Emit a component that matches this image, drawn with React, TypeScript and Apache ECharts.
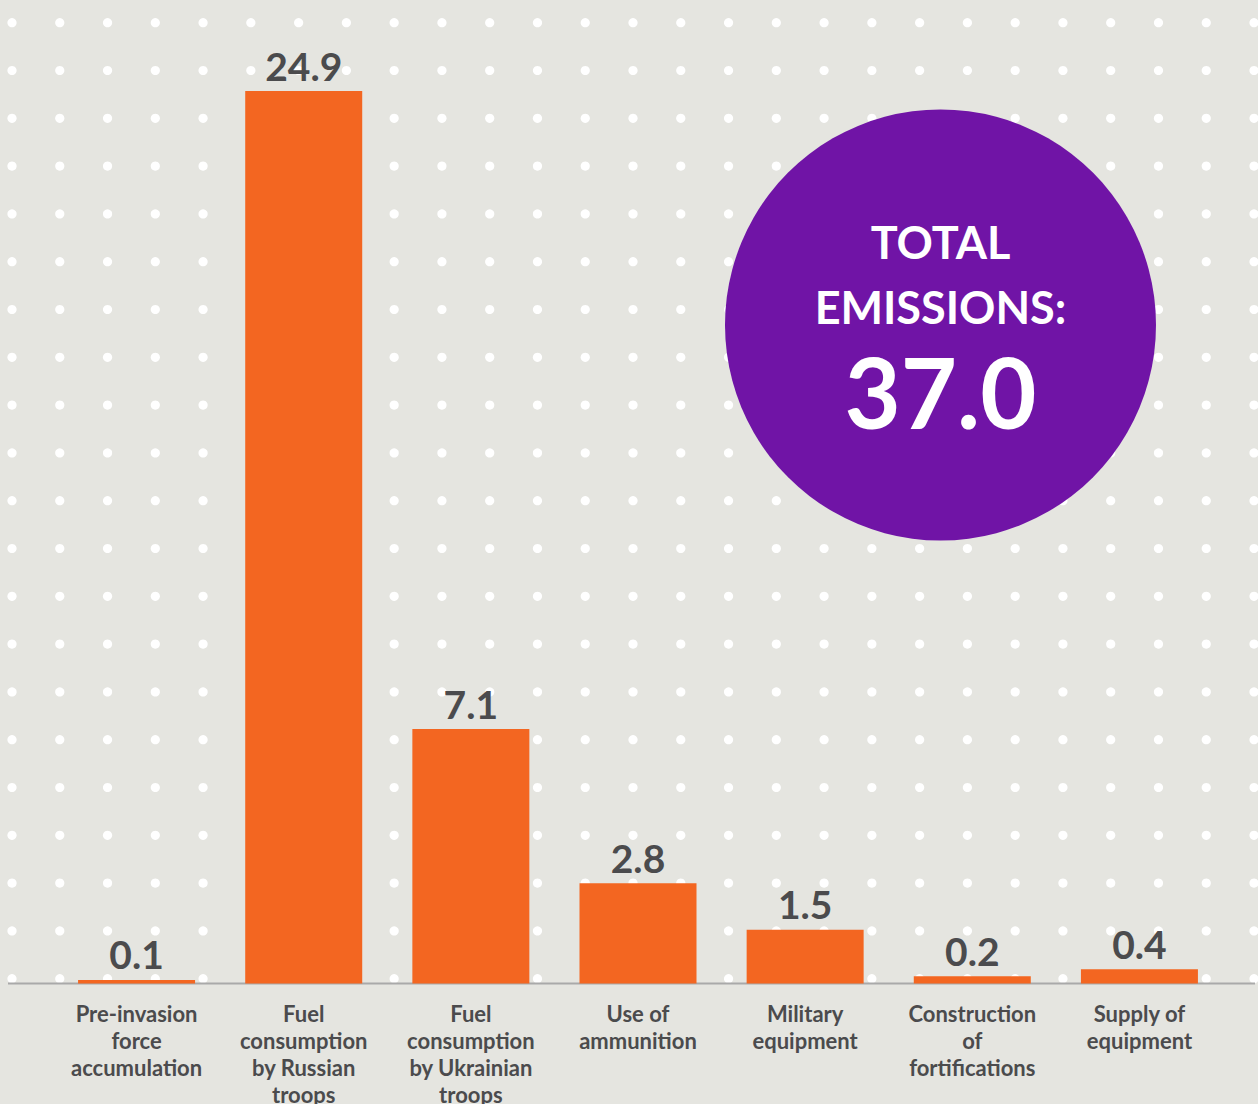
import React, { useEffect, useRef } from "react";
import * as echarts from "echarts";

const categories = [
  "Pre-invasion\nforce\naccumulation",
  "Fuel\nconsumption\nby Russian\ntroops",
  "Fuel\nconsumption\nby Ukrainian\ntroops",
  "Use of\nammunition",
  "Military\nequipment",
  "Construction\nof\nfortifications",
  "Supply of\nequipment",
];
const values = [0.1, 24.9, 7.1, 2.8, 1.5, 0.2, 0.4];
const totalTitle = "TOTAL\nEMISSIONS:";

const W = 1258;
const H = 1104;
const BG = "#e5e5e0";
const ORANGE = "#f36621";
const PURPLE = "#7014a6";
const TEXT = "#4b4b4d";
const FONT = "Lato, 'Noto Sans', sans-serif";

export default function App() {
  const ref = useRef<HTMLDivElement>(null);

  useEffect(() => {
    if (!ref.current) return;
    const chart = echarts.init(ref.current, undefined, { renderer: "svg" });
    const total = values.reduce((a, b) => a + b, 0);

    const dots: any[] = [];
    for (let j = 0; j <= 20; j++) {
      for (let i = 0; i <= 26; i++) {
        dots.push({
          type: "circle",
          z: 0,
          silent: true,
          shape: { cx: 12 + i * 47.77, cy: 22.7 + j * 47.8, r: 4.6 },
          style: { fill: "#ffffff" },
        });
      }
    }

    const cx = 940.5;
    const cy = 325;

    chart.setOption({
      animation: false,
      backgroundColor: BG,
      grid: {
        left: 53,
        width: 1170,
        top: 15.8,
        bottom: 120.5,
        containLabel: false,
        outerBoundsMode: "none",
      },
      xAxis: {
        type: "category",
        data: categories,
        axisLine: { show: false },
        axisTick: { show: false },
        axisLabel: {
          interval: 0,
          margin: 16,
          color: TEXT,
          fontFamily: FONT,
          fontWeight: "bold",
          fontSize: 22,
          lineHeight: 27,
          align: "center",
        },
      },
      yAxis: {
        type: "value",
        min: 0,
        max: 27,
        show: false,
        splitLine: { show: false },
      },
      series: [
        {
          type: "bar",
          data: values,
          barWidth: 117,
          z: 2,
          itemStyle: { color: ORANGE },
          label: {
            show: true,
            position: "top",
            distance: 6,
            color: TEXT,
            fontFamily: FONT,
            fontWeight: "bold",
            fontSize: 39,
            formatter: (p: any) => Number(p.value).toFixed(1),
          },
        },
      ],
      graphic: [
        ...dots,
        {
          type: "line",
          z: 1,
          silent: true,
          shape: { x1: 8, y1: 983.5, x2: 1255, y2: 983.5 },
          style: { stroke: "#a9a9a9", lineWidth: 2 },
        },
        {
          type: "circle",
          z: 50,
          shape: { cx, cy, r: 215.5 },
          style: { fill: PURPLE },
        },
        {
          type: "text",
          z: 51,
          x: cx,
          y: 274,
          style: {
            text: totalTitle,
            fill: "#ffffff",
            font: `bold 45px ${FONT}`,
            lineHeight: 65,
            align: "center",
            verticalAlign: "middle",
          },
        },
        {
          type: "text",
          z: 51,
          x: cx,
          y: 391,
          style: {
            text: total.toFixed(1),
            fill: "#ffffff",
            font: `bold 97px ${FONT}`,
            align: "center",
            verticalAlign: "middle",
          },
        },
      ],
    });

    return () => chart.dispose();
  }, []);

  return (
    <div
      ref={ref}
      style={{ position: "fixed", left: 0, top: 0, width: W, height: H }}
    />
  );
}
